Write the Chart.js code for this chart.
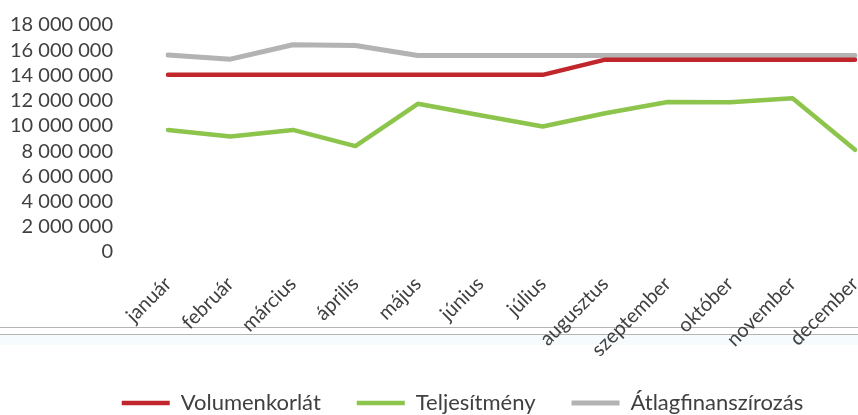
<!DOCTYPE html>
<html>
<head>
<meta charset="utf-8">
<script src="https://cdn.jsdelivr.net/npm/chart.js@4/dist/chart.umd.min.js"></script>
<style>
  html, body { margin: 0; padding: 0; overflow: hidden; background: #fff; }
  #wrap { position: relative; width: 858px; height: 415px; overflow: hidden; }
  .rule { position: absolute; left: 0; width: 858px; height: 1px; background: #b4b4b4; }
  #band { position: absolute; left: 0; top: 335px; width: 858px; height: 10px; background: #f6fbfd; }
  #myChart { position: absolute; left: 0; top: 0; }
</style>
</head>
<body>
<div id="wrap">
  <div class="rule" style="top:327px"></div>
  <div class="rule" style="top:334px"></div>
  <div id="band"></div>
  <canvas id="myChart" width="858" height="424"></canvas>
</div>
<script>
// chart values (HUF)
let months = ['január', 'február', 'március', 'április', 'május', 'június', 'július', 'augusztus', 'szeptember', 'október', 'november', 'december'];
let volumenkorlat = [14050000, 14050000, 14050000, 14050000, 14050000, 14050000, 14050000, 15250000, 15250000, 15250000, 15250000, 15250000];
let teljesitmeny = [9680000, 9150000, 9680000, 8400000, 11750000, 10850000, 9950000, 11000000, 11900000, 11880000, 12200000, 8100000];
let atlagfinanszirozas = [15630000, 15290000, 16430000, 16370000, 15580000, 15580000, 15580000, 15580000, 15580000, 15580000, 15580000, 15580000];
let yMax = 18000000;
let yStep = 2000000;

let textColor = '#404040';
let fontFamily = 'Lato, "Open Sans", sans-serif';

function spaced(v) {
    return String(v).replace(/\B(?=(\d{3})+(?!\d))/g, ' ');
}

function lineSet(label, data, color, width) {
    return {
        label: label,
        data: data,
        borderColor: color,
        backgroundColor: color,
        borderWidth: width,
        pointRadius: 0,
        pointHoverRadius: 0,
        tension: 0,
        borderJoinStyle: 'round',
        borderCapStyle: 'round',
        fill: false
    };
}

// moves the legend right, it is not centred on the canvas in the original
const legendShift = {
    id: 'legendShift',
    afterLayout(c) {
        c.legend.left += 70;
    }
};

Chart.defaults.font.family = fontFamily;
Chart.defaults.color = textColor;

let chart = new Chart('myChart', {
    type: 'line',
    data: {
        labels: months,
        datasets: [
            lineSet('Volumenkorlát', volumenkorlat, '#c0262b', 4.5),
            lineSet('Teljesítmény', teljesitmeny, '#8cc44c', 4.5),
            lineSet('Átlagfinanszírozás', atlagfinanszirozas, '#b3b3b3', 5)
        ]
    },
    plugins: [legendShift],
    options: {
        responsive: false,
        animation: false,
        layout: { padding: { left: 0, right: 3, top: 25, bottom: 0 } },
        plugins: {
            tooltip: { enabled: false },
            legend: {
                display: true,
                position: 'bottom',
                labels: {
                    usePointStyle: true,
                    pointStyle: 'line',
                    pointStyleWidth: 48,
                    padding: 36,
                    color: textColor,
                    font: { size: 22 }
                }
            }
        },
        scales: {
            x: {
                offset: false,
                grid: { display: false, drawTicks: false },
                border: { display: false },
                ticks: {
                    autoSkip: false,
                    minRotation: 45,
                    maxRotation: 45,
                    padding: 20,
                    color: textColor,
                    font: { size: 20 }
                },
                afterFit: function(scale) {
                    scale.height = 104;
                    scale.paddingLeft = 0;
                    scale.paddingRight = 0;
                }
            },
            y: {
                min: 0,
                max: yMax,
                grid: { display: false, drawTicks: false },
                border: { display: false },
                ticks: {
                    stepSize: yStep,
                    autoSkip: false,
                    padding: 55,
                    color: textColor,
                    font: { size: 20 },
                    callback: function(v) { return spaced(v); }
                },
                afterFit: function(scale) {
                    // labels sit well left of the plot, keep that gap out of the top/bottom padding
                    scale.width = 168;
                    scale.paddingTop = 0;
                    scale.paddingBottom = 0;
                }
            }
        }
    }
});
</script>
</body>
</html>
